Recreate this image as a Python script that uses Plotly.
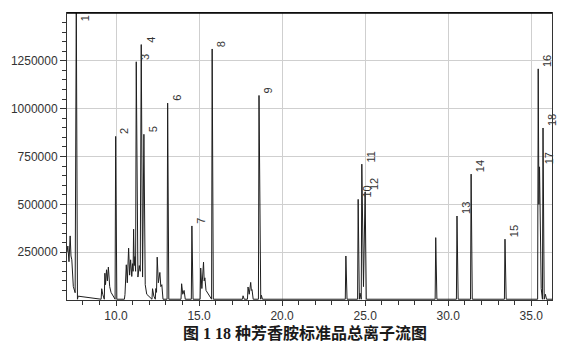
import plotly.graph_objects as go

# ---------------- data ----------------
# labelled compounds: number, retention time (min), apex abundance
peak_no = [1, 2, 3, 4, 5, 6, 7, 8, 9, 10, 11, 12, 13, 14, 15, 16, 17, 18]
peak_rt = [7.61, 9.98, 11.22, 11.52, 11.68, 13.11, 14.57, 15.79, 18.61,
           24.58, 24.80, 25.00, 30.53, 31.38, 33.42, 35.42, 35.50, 35.71]
peak_height = [1560000, 855000, 1245000, 1335000, 866000, 1029000, 387000,
               1312000, 1069000, 526000, 710000, 565000, 439000, 658000,
               318000, 1208000, 696000, 899000]

# unlabelled peaks / matrix peaks
minor_rt = [7.10, 7.24, 7.34, 9.14, 9.33, 9.43, 9.54, 10.54, 10.62, 10.76,
            10.88, 11.00, 11.06, 11.14, 11.40, 12.20, 12.40, 12.48, 12.64,
            12.76, 13.95, 14.10, 15.10, 15.27, 15.35, 17.65, 17.95, 18.11,
            18.19, 18.75, 23.84, 29.25]
minor_height = [282000, 335000, 210000, 59000, 140000, 158000, 172000, 28000,
                184000, 271000, 210000, 190000, 370000, 227000, 180000, 59000,
                60000, 224000, 144000, 80000, 85000, 50000, 167000, 198000,
                116000, 22000, 68000, 92000, 54000, 25000, 230000, 326000]

# elevated valleys inside the crowded clusters
valley_rt = [7.05, 7.17, 7.29, 7.43, 7.54, 7.72, 9.20, 9.37, 9.48, 9.62,
             9.70, 10.68, 10.82, 10.95, 11.03, 11.10, 11.18, 11.32, 11.46,
             11.60, 11.76, 11.85, 12.28, 12.44, 12.55, 12.70, 14.02, 15.17,
             15.31, 15.42, 18.02, 18.15, 24.69, 24.90, 35.46, 35.60, 35.85]
valley_level = [250000, 200000, 230000, 71000, 38000, 20000, 30000, 80000,
                100000, 70000, 40000, 90000, 130000, 123000, 150000, 180000,
                150000, 120000, 150000, 120000, 80000, 30000, 20000, 40000,
                90000, 70000, 30000, 60000, 100000, 50000, 30000, 50000,
                36000, 70000, 500000, 60000, 30000]

baseline = 4000

x_tick_values = [10, 15, 20, 25, 30, 35]
y_tick_values = [250000, 500000, 750000, 1000000, 1250000]
caption = "<b>图 1 18 种芳香胺标准品总离子流图</b>"

X_RANGE = [7.05, 36.25]
Y_RANGE = [0, 1500000]

# ---------------- build the chromatogram outline ----------------
LEAD, TAIL = 0.035, 0.07
verts = []
for t, h in zip(peak_rt, peak_height):
    verts.append((t, h, True))
for t, h in zip(minor_rt, minor_height):
    verts.append((t, h, True))
for t, h in zip(valley_rt, valley_level):
    verts.append((t, h, False))
verts.sort(key=lambda v: v[0])

xs, ys = [], []
for i, (t, h, is_apex) in enumerate(verts):
    if i > 0:
        pt, ph, p_apex = verts[i - 1]
        if t - pt > LEAD + TAIL:
            if p_apex:
                xs.append(pt + TAIL); ys.append(baseline)
            if is_apex:
                xs.append(t - LEAD); ys.append(baseline)
    xs.append(t); ys.append(h)
xs.append(verts[-1][0] + TAIL); ys.append(baseline)
xs.append(X_RANGE[1]); ys.append(baseline)

fig = go.Figure()
fig.add_trace(go.Scatter(x=xs, y=ys, mode="lines",
                         line=dict(color="#1e1e1e", width=1),
                         hoverinfo="skip"))

# peak number labels
for n, t, h in zip(peak_no, peak_rt, peak_height):
    clipped = h > Y_RANGE[1]
    fig.add_annotation(x=t, y=min(h, Y_RANGE[1]), text=str(n),
                       textangle=-90, showarrow=False,
                       xanchor="left", yanchor="top" if clipped else "bottom",
                       xshift=1, font=dict(family="Liberation Sans, Arial",
                                           size=11, color="#333"))

fig.add_annotation(xref="paper", yref="paper", x=0.49, y=0, yshift=-33,
                   yanchor="middle", showarrow=False, text=caption,
                   font=dict(family="Liberation Serif, Noto Sans CJK SC",
                             size=16, color="#1a1a1a"))

axis_font = dict(family="Liberation Sans, Arial", size=12, color="#333")
fig.update_xaxes(range=X_RANGE, tickmode="array", tickvals=x_tick_values,
                 tickformat=".1f", ticks="outside", ticklen=5,
                 tickcolor="#333", showgrid=True, gridcolor="#cfcfcf",
                 gridwidth=1, showline=True, linecolor="#333", mirror=True,
                 zeroline=False, tickfont=axis_font,
                 minor=dict(tickmode="array",
                            tickvals=list(range(8, 37)),
                            ticks="outside", ticklen=4, tickcolor="#333",
                            showgrid=False))
fig.update_yaxes(range=Y_RANGE, tickmode="array", tickvals=y_tick_values,
                 tickformat="d", ticks="outside", ticklen=6,
                 tickcolor="#333", showgrid=True, gridcolor="#cfcfcf",
                 gridwidth=1, showline=True, linecolor="#333", mirror=True,
                 zeroline=False, tickfont=axis_font,
                 minor=dict(tickmode="array",
                            tickvals=list(range(50000, 1500000, 50000)),
                            ticks="outside", ticklen=4, tickcolor="#333",
                            showgrid=False))

fig.add_shape(type="line", xref="paper", yref="paper", x0=0, x1=1, y0=1, y1=1,
              line=dict(color="#000", width=1.5))

fig.update_layout(width=566, height=350,
                  margin=dict(l=67, r=14, t=13, b=50),
                  plot_bgcolor="white", paper_bgcolor="white",
                  showlegend=False)

fig.write_html("out.html")
